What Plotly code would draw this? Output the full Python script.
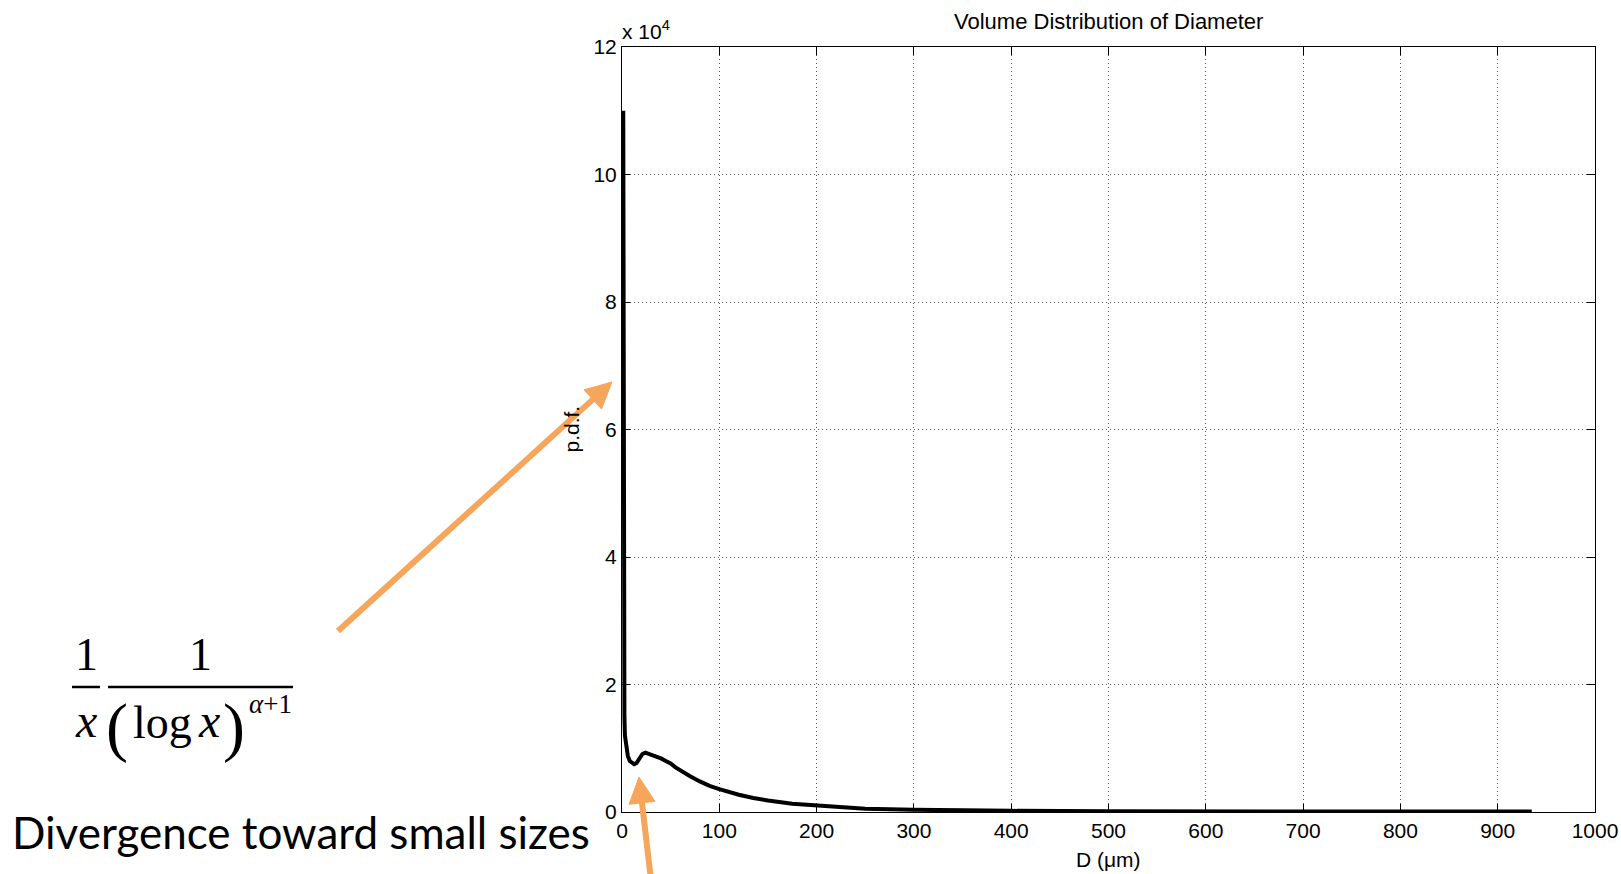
import math
import plotly.graph_objects as go

# ---- data (p.d.f. in units of 1e4) ----
diameter_um = [1.3, 1.7, 2.0, 2.5, 3.0, 4.0, 5.0, 6.0, 8.0, 10.0, 12.5, 15.0, 18.0, 21.0,
               24.0, 28.0, 32.0, 36.0, 40.0, 45.0, 50.0, 55.0, 60.0, 70.0, 80.0, 90.0,
               100.0, 110.0, 120.0, 135.0, 150.0, 175.0, 200.0, 225.0, 250.0, 300.0,
               350.0, 400.0, 500.0, 600.0, 700.0, 800.0, 900.0, 935.0]
pdf_e4 = [11.0, 4.2, 2.1, 1.5, 1.2, 1.05, 0.95, 0.88, 0.80, 0.77, 0.75, 0.77, 0.84, 0.91,
          0.93, 0.91, 0.89, 0.87, 0.84, 0.80, 0.76, 0.70, 0.65, 0.56, 0.48, 0.41,
          0.36, 0.31, 0.27, 0.22, 0.18, 0.13, 0.10, 0.07, 0.05, 0.035,
          0.025, 0.018, 0.012, 0.010, 0.008, 0.007, 0.006, 0.006]

x_ticks = [0, 100, 200, 300, 400, 500, 600, 700, 800, 900, 1000]
y_ticks = [0, 2, 4, 6, 8, 10, 12]

W, H = 1621, 874
ML, MR, MT, MB = 622, 26, 47, 62
PW, PH = W - ML - MR, H - MT - MB


def px(p):
    return (p - ML) / PW


def py(p):
    return (H - MB - p) / PH


ORANGE = "#F5A65B"
AX_FONT = dict(family="Liberation Sans, Arial, sans-serif", size=21, color="black")
SERIF = "Liberation Serif, Times New Roman, serif"

fig = go.Figure()
fig.add_trace(go.Scatter(x=diameter_um, y=pdf_e4, mode="lines",
                         line=dict(color="black", width=4), showlegend=False))

axis_common = dict(showline=True, linecolor="black", linewidth=1, mirror="allticks",
                   ticks="inside", ticklen=8, tickcolor="black", showgrid=True,
                   gridcolor="#555555", griddash="1px,3px", gridwidth=1, zeroline=False,
                   tickfont=AX_FONT)

fig.update_xaxes(range=[0, 1000], tickvals=x_ticks, ticktext=[str(v) for v in x_ticks],
                 **axis_common)
fig.update_yaxes(range=[0, 12], tickvals=y_ticks, ticktext=[str(v) for v in y_ticks],
                 **axis_common)

ann = []
# axis texts
ann.append(dict(x=0.5, y=py(22), xref="paper", yref="paper", text="Volume Distribution of Diameter",
                showarrow=False, font=dict(family=AX_FONT["family"], size=22, color="black"),
                xanchor="center", yanchor="middle"))
ann.append(dict(x=px(620), y=py(30), xref="paper", yref="paper", text="x 10<sup>4</sup>",
                showarrow=False, font=AX_FONT, xanchor="left", yanchor="middle"))
ann.append(dict(x=0.5, y=py(859), xref="paper", yref="paper", text="D (μm)",
                showarrow=False, font=AX_FONT, xanchor="center", yanchor="middle"))
ann.append(dict(x=px(571), y=0.5, xref="paper", yref="paper", text="p.d.f.", textangle=-90,
                showarrow=False, font=AX_FONT, xanchor="center", yanchor="middle"))


# formula
def txt(x, y, t, size):
    ann.append(dict(x=px(x), y=py(y), xref="paper", yref="paper", text=t, showarrow=False,
                    font=dict(family=SERIF, size=size, color="black"),
                    xanchor="center", yanchor="middle"))


txt(86, 654, "1", 46)
txt(86, 720, "<i>x</i>", 48)
txt(200, 654, "1", 46)
txt(117, 727, "(", 66)
txt(162, 722, "log", 46)
txt(209, 720, "<i>x</i>", 48)
txt(234, 727, ")", 66)
txt(270, 704, "<i>α</i>+1", 27)

ann.append(dict(x=px(10), y=py(832), xref="paper", yref="paper",
                text="Divergence toward small sizes", showarrow=False,
                font=dict(family="Lato, Carlito, Calibri, sans-serif", size=44, color="black"),
                xanchor="left", yanchor="middle"))

shapes = [
    dict(type="line", xref="paper", yref="paper", x0=px(72), x1=px(100), y0=py(687), y1=py(687),
         line=dict(color="black", width=2.5)),
    dict(type="line", xref="paper", yref="paper", x0=px(108), x1=px(293), y0=py(687), y1=py(687),
         line=dict(color="black", width=2.5)),
]


# orange arrows drawn as shapes (shaft + filled head), given in page pixels
def arrow(tail, tip, head_len=26, head_half=13, width=6):
    dx, dy = tip[0] - tail[0], tip[1] - tail[1]
    L = math.hypot(dx, dy)
    ux, uy = dx / L, dy / L
    nx, ny = -uy, ux
    bx, by = tip[0] - ux * head_len, tip[1] - uy * head_len
    shapes.append(dict(type="line", xref="paper", yref="paper",
                       x0=px(tail[0]), y0=py(tail[1]), x1=px(bx + ux * 2), y1=py(by + uy * 2),
                       line=dict(color=ORANGE, width=width)))
    pts = [(tip[0], tip[1]), (bx + nx * head_half, by + ny * head_half),
           (bx - nx * head_half, by - ny * head_half)]
    path = "M " + " L ".join(f"{px(a):.5f},{py(b):.5f}" for a, b in pts) + " Z"
    shapes.append(dict(type="path", xref="paper", yref="paper", path=path,
                       fillcolor=ORANGE, line=dict(color=ORANGE, width=1)))


arrow((338, 631), (612, 382))
arrow((651, 880), (639, 777))

fig.update_layout(width=W, height=H, margin=dict(l=ML, r=MR, t=MT, b=MB, autoexpand=False),
                  paper_bgcolor="white", plot_bgcolor="white", annotations=ann, shapes=shapes,
                  showlegend=False)

fig.write_html("out.html")
